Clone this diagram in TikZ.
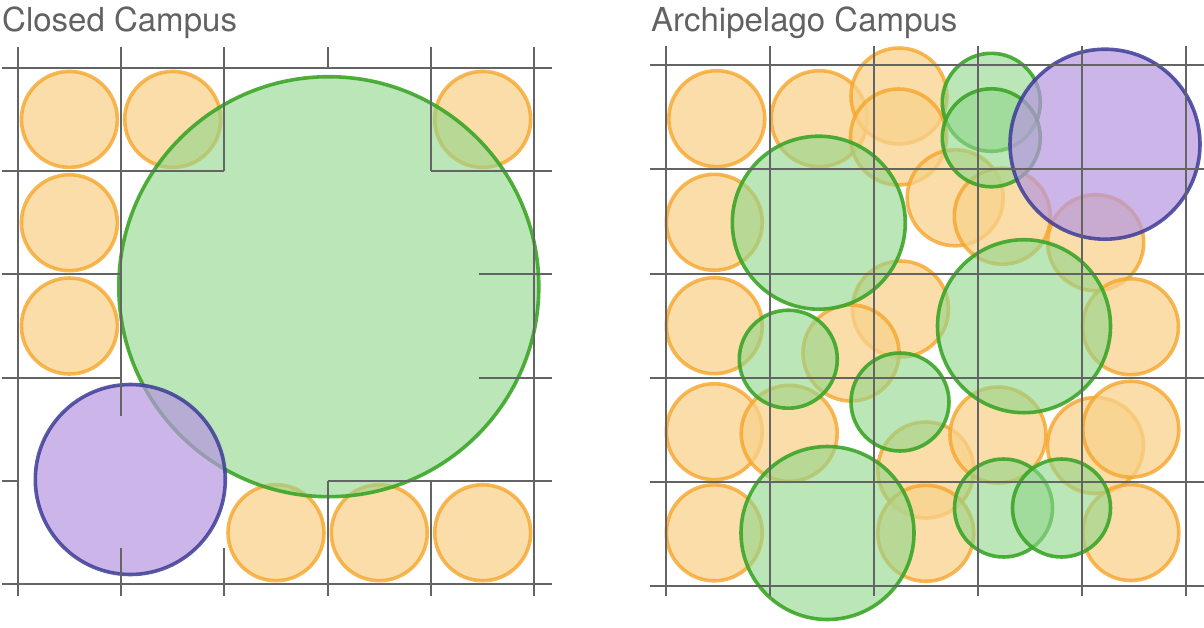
\documentclass[tikz,border=0pt]{standalone}
\usepackage{xcolor}
\usepackage{fontspec}
\setmainfont{TeX Gyre Heros}
\usepackage{tikz}
\usetikzlibrary{shapes.geometric, backgrounds}
\definecolor{gridgray}{RGB}{100,100,100}
\definecolor{titlegray}{RGB}{98,98,98}
\definecolor{orangefill}{RGB}{248,210,139}
\definecolor{orangeline}{RGB}{245,166,45}
\definecolor{greenfill}{RGB}{145,214,140}
\definecolor{greenline}{RGB}{60,165,40}
\definecolor{purplefill}{RGB}{182,150,224}
\definecolor{purpleline}{RGB}{60,60,150}
\tikzset{
grid line/.style = { draw = gridgray, line width = 2pt },
title/.style = { anchor = base west, inner sep = 0pt, text = titlegray, font = \fontsize{33}{33}\selectfont },
orange site/.style = { circle, inner sep = 0pt, outer sep = 0pt, line width = 3.6pt, fill = orangefill, fill opacity = 0.75, draw = orangeline, draw opacity = 0.8, minimum size = 96pt },
green site/.style = { circle, inner sep = 0pt, outer sep = 0pt, line width = 3.6pt, fill = greenfill, fill opacity = 0.62, draw = greenline, draw opacity = 0.9 },
purple site/.style = { circle, inner sep = 0pt, outer sep = 0pt, line width = 3.6pt, fill = purplefill, fill opacity = 0.7, draw = purpleline, draw opacity = 0.85, minimum size = 190pt },
}

\begin{document}
\begin{tikzpicture}[x = 1pt, y = -1pt]
    \useasboundingbox (0, 0) rectangle (1204, 627);

    \node[title] (closed title) at (2, 31) {Closed Campus};
    \node[title] (archi title) at (651, 31) {Archipelago Campus};

    % closed campus sites
    \node[orange site] (c o1) at (69.4, 119.4) {};
    \node[orange site] (c o2) at (172.7, 119.4) {};
    \node[orange site] (c o3) at (482.7, 119.4) {};
    \node[orange site] (c o4) at (69.4, 222.7) {};
    \node[orange site] (c o5) at (69.4, 326) {};
    \node[orange site] (c o6) at (276, 532.7) {};
    \node[orange site] (c o7) at (379.3, 532.7) {};
    \node[orange site] (c o8) at (482.7, 532.7) {};
    \node[green site, minimum size = 420pt] (c g1) at (328.8, 286.7) {};
    \node[purple site] (c p1) at (130.3, 479.5) {};

    % archipelago campus sites
    \node[orange site] (a o1) at (716.8, 118.7) {};
    \node[orange site] (a o2) at (819.2, 118.7) {};
    \node[orange site] (a o3) at (899, 96) {};
    \node[orange site] (a o4) at (898.5, 137) {};
    \node[orange site] (a o5) at (955.2, 197.8) {};
    \node[orange site] (a o6) at (1002.3, 216.2) {};
    \node[orange site] (a o7) at (1095.7, 242.7) {};
    \node[orange site] (a o8) at (714.3, 222.3) {};
    \node[orange site] (a o9) at (714.3, 325.7) {};
    \node[orange site] (a o10) at (900.5, 309) {};
    \node[orange site] (a o11) at (851, 353) {};
    \node[orange site] (a o12) at (1130.5, 326.7) {};
    \node[orange site] (a o13) at (714.3, 431.7) {};
    \node[orange site] (a o14) at (789.2, 433.3) {};
    \node[orange site] (a o15) at (714.3, 532.8) {};
    \node[orange site] (a o16) at (925.8, 470) {};
    \node[orange site] (a o17) at (925.8, 533.3) {};
    \node[orange site] (a o18) at (998, 435) {};
    \node[orange site] (a o19) at (1095.5, 445.5) {};
    \node[orange site] (a o20) at (1130.8, 429.2) {};
    \node[orange site] (a o21) at (1130.8, 532.5) {};
    \node[green site, minimum size = 173pt] (a g1) at (818.8, 222.7) {};
    \node[green site, minimum size = 98pt] (a g2) at (991.3, 102.3) {};
    \node[green site, minimum size = 98pt] (a g3) at (991.3, 137.8) {};
    \node[green site, minimum size = 173pt] (a g4) at (1024, 326.2) {};
    \node[green site, minimum size = 98pt] (a g5) at (788.3, 359.2) {};
    \node[green site, minimum size = 98pt] (a g6) at (900, 402) {};
    \node[green site, minimum size = 173pt] (a g7) at (827.5, 533) {};
    \node[green site, minimum size = 98pt] (a g8) at (1003.5, 508) {};
    \node[green site, minimum size = 98pt] (a g9) at (1061.5, 508) {};
    \node[purple site] (a p1) at (1105, 144.2) {};

    % closed campus grid
    \draw[grid line] (2, 67.7) -- (552, 67.7);
    \draw[grid line] (2, 584.3) -- (552, 584.3);
    \draw[grid line] (17.7, 47) -- (17.7, 596);
    \draw[grid line] (534.3, 47) -- (534.3, 596);
    \draw[grid line] (121, 47) -- (121, 416);
    \draw[grid line] (121, 548) -- (121, 596);
    \draw[grid line] (224.3, 47) -- (224.3, 171);
    \draw[grid line] (224.3, 548) -- (224.3, 596);
    \draw[grid line] (327.6, 47) -- (327.6, 67.7);
    \draw[grid line] (327.6, 481) -- (327.6, 596);
    \draw[grid line] (431, 47) -- (431, 171);
    \draw[grid line] (431, 481) -- (431, 596);
    \draw[grid line] (2, 171) -- (224.3, 171);
    \draw[grid line] (431, 171) -- (552, 171);
    \draw[grid line] (2, 274.3) -- (121, 274.3);
    \draw[grid line] (479, 274.3) -- (552, 274.3);
    \draw[grid line] (2, 377.6) -- (121, 377.6);
    \draw[grid line] (479, 377.6) -- (552, 377.6);
    \draw[grid line] (2, 481) -- (17.7, 481);
    \draw[grid line] (327.6, 481) -- (552, 481);

    % archipelago campus grid
    \draw[grid line] (650, 65.3) -- (1204, 65.3);
    \draw[grid line] (650, 169.4) -- (1204, 169.4);
    \draw[grid line] (650, 273.5) -- (1204, 273.5);
    \draw[grid line] (650, 377.6) -- (1204, 377.6);
    \draw[grid line] (650, 481.7) -- (1204, 481.7);
    \draw[grid line] (650, 585.8) -- (1204, 585.8);
    \draw[grid line] (665.7, 46) -- (665.7, 596);
    \draw[grid line] (769.8, 46) -- (769.8, 596);
    \draw[grid line] (873.9, 46) -- (873.9, 596);
    \draw[grid line] (978, 46) -- (978, 596);
    \draw[grid line] (1082.1, 46) -- (1082.1, 596);
    \draw[grid line] (1186.2, 46) -- (1186.2, 596);
\end{tikzpicture}
\end{document}
